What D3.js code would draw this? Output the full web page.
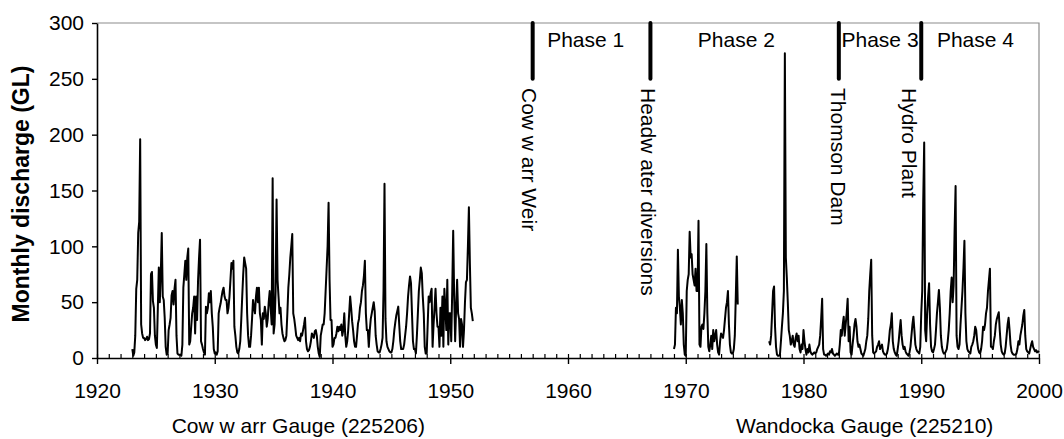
<!DOCTYPE html>
<html>
<head>
<meta charset="utf-8">
<script src="https://cdn.jsdelivr.net/npm/d3@7"></script>
<style>
  html, body { margin: 0; padding: 0; background: #fff; }
  svg { display: block; font-family: "Liberation Sans", Arial, sans-serif; }
</style>
</head>
<body>
<svg id="chart" width="1064" height="439"></svg>
<script>
// Monthly discharge (GL), one row per calendar year, Jan..Dec

// Cowwarr Gauge (225206), Jan 1923 - Dec 1951
const cowwarrStart = 1923;
const cowwarrFlow = [
  [8, 2, 5, 20, 62, 70, 112, 122, 196, 30, 22, 18],     // 1923
  [18, 16, 17, 19, 16, 17, 22, 75, 77, 51, 45, 20],     // 1924
  [12, 9, 45, 81, 50, 75, 112, 55, 52, 36, 10, 3],      // 1925
  [4, 25, 30, 36, 56, 60, 48, 62, 70, 20, 4, 3],        // 1926
  [3, 3, 2, 12, 63, 75, 87, 70, 90, 98, 12, 15],        // 1927
  [28, 40, 45, 55, 22, 55, 34, 70, 90, 106, 15, 12],    // 1928
  [8, 5, 3, 46, 40, 45, 58, 50, 60, 40, 28, 8],         // 1929
  [4, 5, 3, 6, 40, 45, 49, 55, 60, 63, 55, 52],         // 1930
  [52, 40, 45, 55, 70, 85, 80, 87, 28, 20, 10, 5],      // 1931
  [4, 8, 15, 34, 55, 75, 90, 85, 80, 40, 20, 10],       // 1932
  [10, 20, 35, 52, 45, 40, 55, 63, 50, 63, 40, 34],     // 1933
  [12, 40, 35, 46, 40, 28, 35, 50, 60, 45, 30, 161],    // 1934
  [22, 30, 60, 142, 70, 55, 40, 45, 30, 22, 18, 15],    // 1935
  [16, 20, 40, 63, 75, 90, 100, 111, 40, 35, 28, 20],   // 1936
  [18, 16, 18, 15, 22, 20, 25, 30, 36, 15, 8, 6],       // 1937
  [7, 10, 15, 22, 20, 18, 24, 25, 20, 10, 4, 1],        // 1938
  [20, 25, 30, 30, 40, 60, 80, 100, 139, 70, 34, 34],   // 1939
  [10, 12, 18, 18, 22, 28, 24, 28, 25, 30, 20, 25],     // 1940
  [40, 20, 10, 15, 25, 40, 55, 45, 33, 25, 15, 10],     // 1941
  [10, 20, 31, 35, 45, 50, 60, 65, 73, 87, 40, 25],     // 1942
  [25, 10, 25, 35, 40, 45, 50, 42, 20, 12, 6, 5],       // 1943
  [5, 8, 12, 18, 60, 156, 35, 15, 10, 8, 6, 5],         // 1944
  [5, 8, 15, 25, 32, 38, 42, 46, 30, 15, 8, 8],         // 1945
  [8, 12, 20, 28, 40, 55, 65, 73, 67, 40, 15, 8],       // 1946
  [8, 4, 20, 40, 60, 70, 81, 76, 55, 40, 10, 4],        // 1947
  [4, 30, 55, 50, 58, 62, 10, 30, 45, 62, 40, 28],      // 1948
  [28, 10, 45, 20, 55, 10, 62, 45, 25, 70, 12, 40],     // 1949
  [40, 15, 60, 114, 55, 15, 45, 70, 40, 35, 10, 35],    // 1950
  [30, 10, 25, 50, 68, 70, 100, 135, 85, 45, 40, 33]    // 1951
];

// Wandocka Gauge (225210), first run Jan 1969 - Jun 1974
const wandockaEarlyStart = 1969;
const wandockaEarlyFlow = [
  [8, 12, 45, 40, 97, 55, 45, 30, 52, 40, 12, 3],       // 1969
  [2, 60, 70, 75, 113, 90, 93, 75, 70, 65, 80, 60],     // 1970
  [60, 123, 12, 10, 28, 30, 26, 40, 60, 102, 40, 10],   // 1971
  [6, 12, 20, 8, 25, 15, 20, 25, 12, 5, 3, 15],         // 1972
  [22, 20, 18, 25, 35, 45, 50, 60, 30, 12, 5, 4],       // 1973
  [4, 8, 20, 55, 91, 48]                                // 1974
];

// Wandocka Gauge (225210), second run Feb 1977 - Jan 2000
const wandockaLateStart = 1977 + 1 / 12;
const wandockaLateFlow = [
  [15, 12, 20, 40, 60, 64, 28, 10, 3, 2, 2],            // 1977 (from Feb)
  [3, 15, 28, 40, 60, 273, 90, 72, 50, 25, 20, 12],     // 1978
  [15, 20, 12, 10, 18, 22, 15, 20, 8, 5, 12, 8],        // 1979
  [25, 15, 8, 3, 8, 5, 12, 6, 4, 3, 4, 5],              // 1980
  [4, 5, 8, 10, 12, 20, 35, 53, 8, 3, 3, 2],            // 1981
  [3, 4, 3, 6, 5, 8, 4, 3, 2, 3, 4, 3],                 // 1982
  [3, 12, 25, 20, 30, 37, 20, 30, 40, 53, 15, 28],      // 1983
  [5, 3, 12, 20, 30, 35, 28, 15, 10, 12, 8, 4],         // 1984
  [3, 2, 5, 8, 15, 20, 35, 60, 75, 88, 20, 5],          // 1985
  [4, 5, 6, 10, 12, 15, 8, 10, 12, 6, 4, 3],            // 1986
  [3, 4, 8, 15, 25, 30, 40, 15, 8, 5, 3, 2],            // 1987
  [8, 15, 25, 34, 20, 12, 8, 10, 6, 4, 3, 2],           // 1988
  [5, 10, 20, 30, 37, 25, 12, 8, 6, 5, 4, 10],          // 1989
  [40, 60, 140, 193, 25, 15, 40, 55, 67, 30, 10, 6],    // 1990
  [5, 8, 12, 25, 40, 50, 61, 45, 20, 10, 6, 4],         // 1991
  [4, 6, 8, 15, 25, 40, 60, 72, 50, 65, 115, 154],      // 1992
  [20, 10, 8, 12, 30, 45, 60, 80, 105, 40, 15, 8],      // 1993
  [6, 5, 4, 10, 12, 15, 20, 28, 25, 15, 8, 5],          // 1994
  [4, 8, 15, 28, 25, 30, 40, 45, 60, 70, 80, 10],       // 1995
  [10, 8, 15, 20, 30, 35, 38, 41, 25, 12, 6, 4],        // 1996
  [3, 4, 10, 20, 30, 36, 25, 12, 6, 4, 3, 3],           // 1997
  [3, 4, 8, 15, 12, 20, 25, 30, 38, 43, 20, 8],         // 1998
  [6, 5, 4, 8, 12, 15, 10, 8, 6, 7, 5, 6],              // 1999
  [5]                                                   // 2000
];

// management events and phases
const eventYears = [1957, 1967, 1983, 1990];
const eventLabels = ["Cow w arr Weir", "Headw ater diversions", "Thomson Dam", "Hydro Plant"];
const eventSpan = [250, 300];
const phaseLabels = ["Phase 1", "Phase 2", "Phase 3", "Phase 4"];
const phaseCentres = [1961.5, 1974.3, 1986.5, 1994.6];
const gaugeLabels = ["Cow w arr Gauge (225206)", "Wandocka Gauge (225210)"];
const gaugeCentres = [1937.1, 1985.2];

const xTicks = [1920, 1930, 1940, 1950, 1960, 1970, 1980, 1990, 2000];
const yTicks = [0, 50, 100, 150, 200, 250, 300];
const yTitle = "Monthly discharge (GL)";

const svg = d3.select("#chart");
const plotLeft = 97, plotRight = 1039, plotTop = 23, plotBottom = 358;
const fontSize = 21;

const x = d3.scaleLinear().domain([1920, 2000]).range([plotLeft, plotRight]);
const y = d3.scaleLinear().domain([0, 300]).range([plotBottom, plotTop]);

// turn year rows into dated monthly points
function toSeries(start, rows) {
  return rows.flat().map((v, i) => ({ t: start + i / 12, v: v }));
}

const series = [
  toSeries(cowwarrStart, cowwarrFlow),
  toSeries(wandockaEarlyStart, wandockaEarlyFlow),
  toSeries(wandockaLateStart, wandockaLateFlow)
];

// plot frame (grey top and right edges)
svg.append("path")
  .attr("d", `M${plotLeft},${plotTop}H${plotRight}V${plotBottom}`)
  .attr("fill", "none")
  .attr("stroke", "#8c8c8c")
  .attr("stroke-width", 1.2);

// minor yearly ticks, inside
svg.append("g")
  .attr("transform", `translate(0,${plotBottom})`)
  .call(d3.axisBottom(x).tickValues(d3.range(1920, 2001)).tickSize(-4).tickSizeOuter(0).tickFormat(""))
  .call((g) => g.select(".domain").remove())
  .call((g) => g.selectAll("line").attr("stroke", "#000").attr("stroke-width", 1.2));

// major x axis
svg.append("g")
  .attr("transform", `translate(0,${plotBottom})`)
  .call(d3.axisBottom(x).tickValues(xTicks).tickSize(6).tickSizeOuter(0).tickPadding(19).tickFormat(d3.format("d")))
  .call((g) => g.select(".domain").attr("stroke", "#000").attr("stroke-width", 1.6))
  .call((g) => g.selectAll("line").attr("stroke", "#000").attr("stroke-width", 1.4))
  .call((g) => g.selectAll("text").attr("font-size", fontSize).attr("fill", "#000")
    .attr("font-family", "'Liberation Sans', Arial, sans-serif"));

// y axis
svg.append("g")
  .attr("transform", `translate(${plotLeft},0)`)
  .call(d3.axisLeft(y).tickValues(yTicks).tickSize(5).tickSizeOuter(0).tickPadding(8))
  .call((g) => g.select(".domain").attr("stroke", "#000").attr("stroke-width", 1.6))
  .call((g) => g.selectAll("line").attr("stroke", "#000").attr("stroke-width", 1.4))
  .call((g) => g.selectAll("text").attr("font-size", fontSize).attr("fill", "#000")
    .attr("font-family", "'Liberation Sans', Arial, sans-serif"));

svg.append("text")
  .attr("transform", `translate(29,194) rotate(-90)`)
  .attr("text-anchor", "middle")
  .attr("font-size", 23)
  .attr("font-weight", "bold")
  .text(yTitle);

// discharge traces
const line = d3.line()
  .x((d) => x(d.t))
  .y((d) => y(d.v));

svg.append("g")
  .selectAll("path")
  .data(series)
  .enter().append("path")
  .attr("d", line)
  .attr("fill", "none")
  .attr("stroke", "#000")
  .attr("stroke-width", 2)
  .attr("stroke-linejoin", "round");

// event markers
svg.append("g")
  .selectAll("line")
  .data(eventYears)
  .enter().append("line")
  .attr("x1", (d) => x(d))
  .attr("x2", (d) => x(d))
  .attr("y1", y(eventSpan[1]))
  .attr("y2", y(eventSpan[0]))
  .attr("stroke", "#000")
  .attr("stroke-width", 4)
  .attr("stroke-linecap", "round");

// small nudges so the vertical labels sit where the original placed them
const labelNudge = [-3, -2, 0, -12];

svg.append("g")
  .selectAll("text")
  .data(eventYears)
  .enter().append("text")
  .attr("transform", (d, i) => `translate(${x(d) + labelNudge[i]},88) rotate(90)`)
  .attr("dy", "0.35em")
  .attr("font-size", fontSize)
  .text((d, i) => eventLabels[i]);

svg.append("g")
  .selectAll("text")
  .data(phaseCentres)
  .enter().append("text")
  .attr("x", (d) => x(d))
  .attr("y", 47)
  .attr("text-anchor", "middle")
  .attr("font-size", fontSize)
  .text((d, i) => phaseLabels[i]);

svg.append("g")
  .selectAll("text")
  .data(gaugeCentres)
  .enter().append("text")
  .attr("x", (d) => x(d))
  .attr("y", 433)
  .attr("text-anchor", "middle")
  .attr("font-size", fontSize)
  .text((d, i) => gaugeLabels[i]);
</script>
</body>
</html>
